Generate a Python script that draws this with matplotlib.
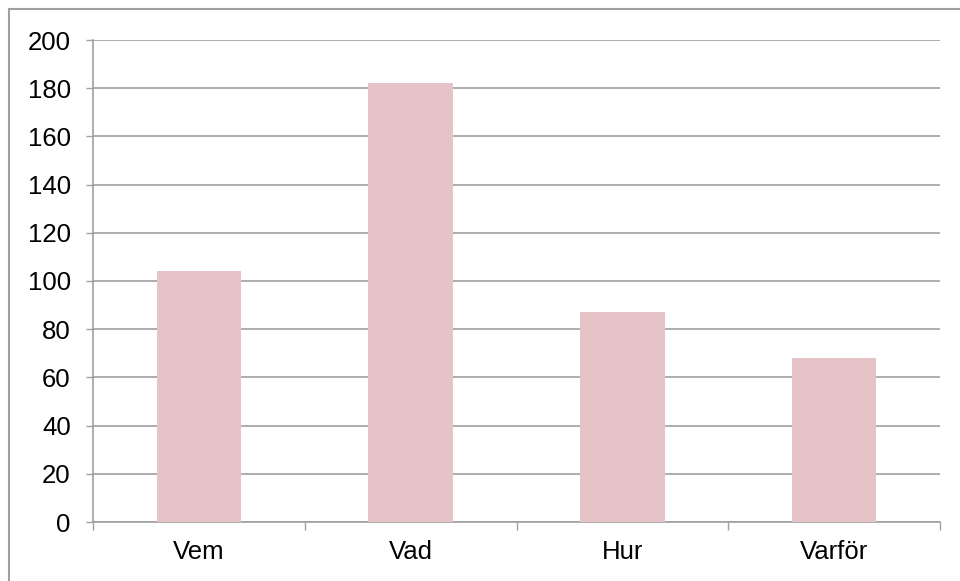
import matplotlib.pyplot as plt
import numpy as np
from matplotlib.patches import Rectangle

# data
categories = ['Vem', 'Vad', 'Hur', 'Varför']
values = [104, 182, 87, 68]
y_ticks = [0, 20, 40, 60, 80, 100, 120, 140, 160, 180, 200]

plt.rcParams['font.family'] = ['Liberation Sans', 'DejaVu Sans']

bar_color = '#E6C3C6'
line_color = '#A0A0A0'
font_size = 18.5

fig = plt.figure(figsize=(9.6, 5.81), dpi=100)
ax = fig.add_axes([93 / 960, 1 - 522 / 581, (940 - 93) / 960, (522 - 40) / 581])

x = np.arange(len(categories))
ax.bar(x, values, width=0.4, color=bar_color, zorder=3)

ax.set_xlim(-0.5, len(categories) - 0.5)
ax.set_ylim(0, 200)
ax.set_yticks(y_ticks)
ax.set_yticklabels([str(v) for v in y_ticks], fontsize=font_size)

# category labels centred, ticks at the category boundaries
ax.set_xticks(np.arange(len(categories) + 1) - 0.5)
ax.set_xticklabels([])
ax.set_xticks(x, minor=True)
ax.set_xticklabels(categories, minor=True, fontsize=font_size)
ax.tick_params(axis='x', which='minor', length=0, pad=13)
ax.tick_params(axis='x', which='major', length=5.5, color=line_color, width=1)
ax.tick_params(axis='y', length=5, color=line_color, width=1, pad=11)

ax.yaxis.grid(True, color=line_color, linewidth=1.2, zorder=0)
ax.set_axisbelow(True)

for side in ['top', 'right']:
    ax.spines[side].set_visible(False)
for side in ['left', 'bottom']:
    ax.spines[side].set_color(line_color)
    ax.spines[side].set_linewidth(1.2)

# outer chart frame
fig.patches.append(Rectangle((9 / 960, -0.05), 1.2, 1 - 9 / 581 + 0.05,
                             transform=fig.transFigure, fill=False,
                             edgecolor=line_color, linewidth=1.5))

plt.savefig('out.png', dpi=100)
